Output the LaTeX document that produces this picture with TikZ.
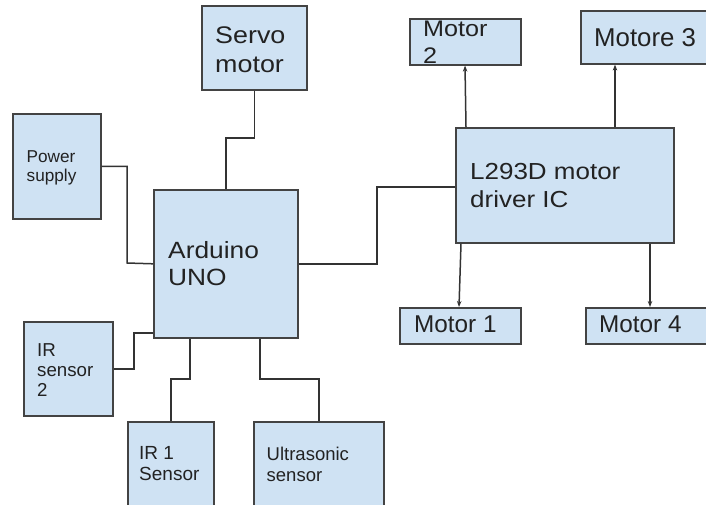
\documentclass[tikz,border=0pt]{standalone}
\usepackage{fontspec}
\setmainfont{Liberation Sans}
\newfontfamily\widesans[FakeStretch=1.12]{Liberation Sans}
\usetikzlibrary{arrows.meta}
\definecolor{boxfill}{HTML}{CFE2F3}
\definecolor{boxline}{HTML}{434343}
\definecolor{wirecol}{HTML}{333333}
\definecolor{txtcol}{HTML}{222222}
\tikzset{
  blk/.style={draw=boxline, fill=boxfill, line width=1.6pt, inner sep=0pt, anchor=north west},
  lbl/.style={inner sep=0pt, anchor=north west, align=left, text=txtcol},
  wire/.style={draw=wirecol, line width=1.5pt},
  arr/.style={wire, -{Stealth[length=6pt,width=4.5pt]}}
}
\newcommand{\fs}[2]{\fontsize{#1pt}{#2pt}\selectfont}
\newcommand{\wfs}[2]{\widesans\fontsize{#1pt}{#2pt}\selectfont}
\begin{document}
\begin{tikzpicture}[x=1pt,y=-1pt]
\useasboundingbox[fill=white] (0,0) rectangle (706,504);
% boxes
\node[blk, minimum width=105, minimum height=84] (sv) at (201,5) {};
\node[blk, minimum width=88, minimum height=105] (pw) at (12,113) {};
\node[blk, minimum width=144, minimum height=148] (ard) at (153,189) {};
\node[blk, minimum width=218, minimum height=115] (drv) at (455,127) {};
\node[blk, minimum width=111, minimum height=46] (m2) at (409,18) {};
\node[blk, minimum width=132, minimum height=53] (m3) at (580,10) {};
\node[blk, minimum width=121, minimum height=36] (m1) at (399,307) {};
\node[blk, minimum width=127, minimum height=36] (m4) at (585,307) {};
\node[blk, minimum width=89, minimum height=94] (ir2) at (23,321) {};
\node[blk, minimum width=86, minimum height=89] (ir1) at (127,421) {};
\node[blk, minimum width=130, minimum height=89] (us) at (253,421) {};
% labels
\node[lbl, font=\wfs{24}{29}] (tsv) at (215,27) {Servo\\motor};
\node[lbl, font=\fs{17.2}{19.5}] (tpw) at (26.5,150) {Power\\supply};
\node[lbl, font=\wfs{23.5}{27}] (tard) at (168,241.5) {Arduino\\UNO};
\node[lbl, font=\wfs{23.2}{28}] (tdrv) at (470,163) {L293D motor\\driver IC};
\node[lbl, font=\wfs{22.5}{27}] (tm2) at (423,21) {Motor\\2};
\node[lbl, font=\fs{25.8}{29}] (tm3) at (594,28) {Motore 3};
\node[lbl, font=\fs{24.3}{29}] (tm1) at (414,316) {Motor 1};
\node[lbl, font=\fs{24.3}{29}] (tm4) at (599,316) {Motor 4};
\node[lbl, font=\fs{18.7}{20}] (tir2) at (37,343) {IR\\sensor\\2};
\node[lbl, font=\fs{19}{21}] (tir1) at (139,446.5) {IR 1\\Sensor};
\node[lbl, font=\fs{18.5}{21}] (tus) at (266.5,447) {Ultrasonic\\sensor};
% connectors
\draw[wire] (pw.east) -| (127,263) -- (ard.west);
\draw[wire] (sv.south) |- (226,138) -- (226,138 |- ard.north);
\draw[wire] (ard.east) -| (377,187) -- (377,187 -| drv.west);
\draw[wire] (ir2.east) -| (134,333) -- (134,333 -| ard.west);
\draw[wire] (ir1.north) |- (190,379) -- (190,379 |- ard.south);
\draw[wire] (us.north) |- (260,379) -- (260,379 |- ard.south);
\draw[arr] (466,0 |- drv.north) -- (465,0 |- m2.south);
\draw[arr] (615,0 |- drv.north) -- (615,0 |- m3.south);
\draw[arr] (461,0 |- drv.south) -- (459,0 |- m1.north);
\draw[arr] (650,0 |- drv.south) -- (650,0 |- m4.north);
\end{tikzpicture}
\end{document}
